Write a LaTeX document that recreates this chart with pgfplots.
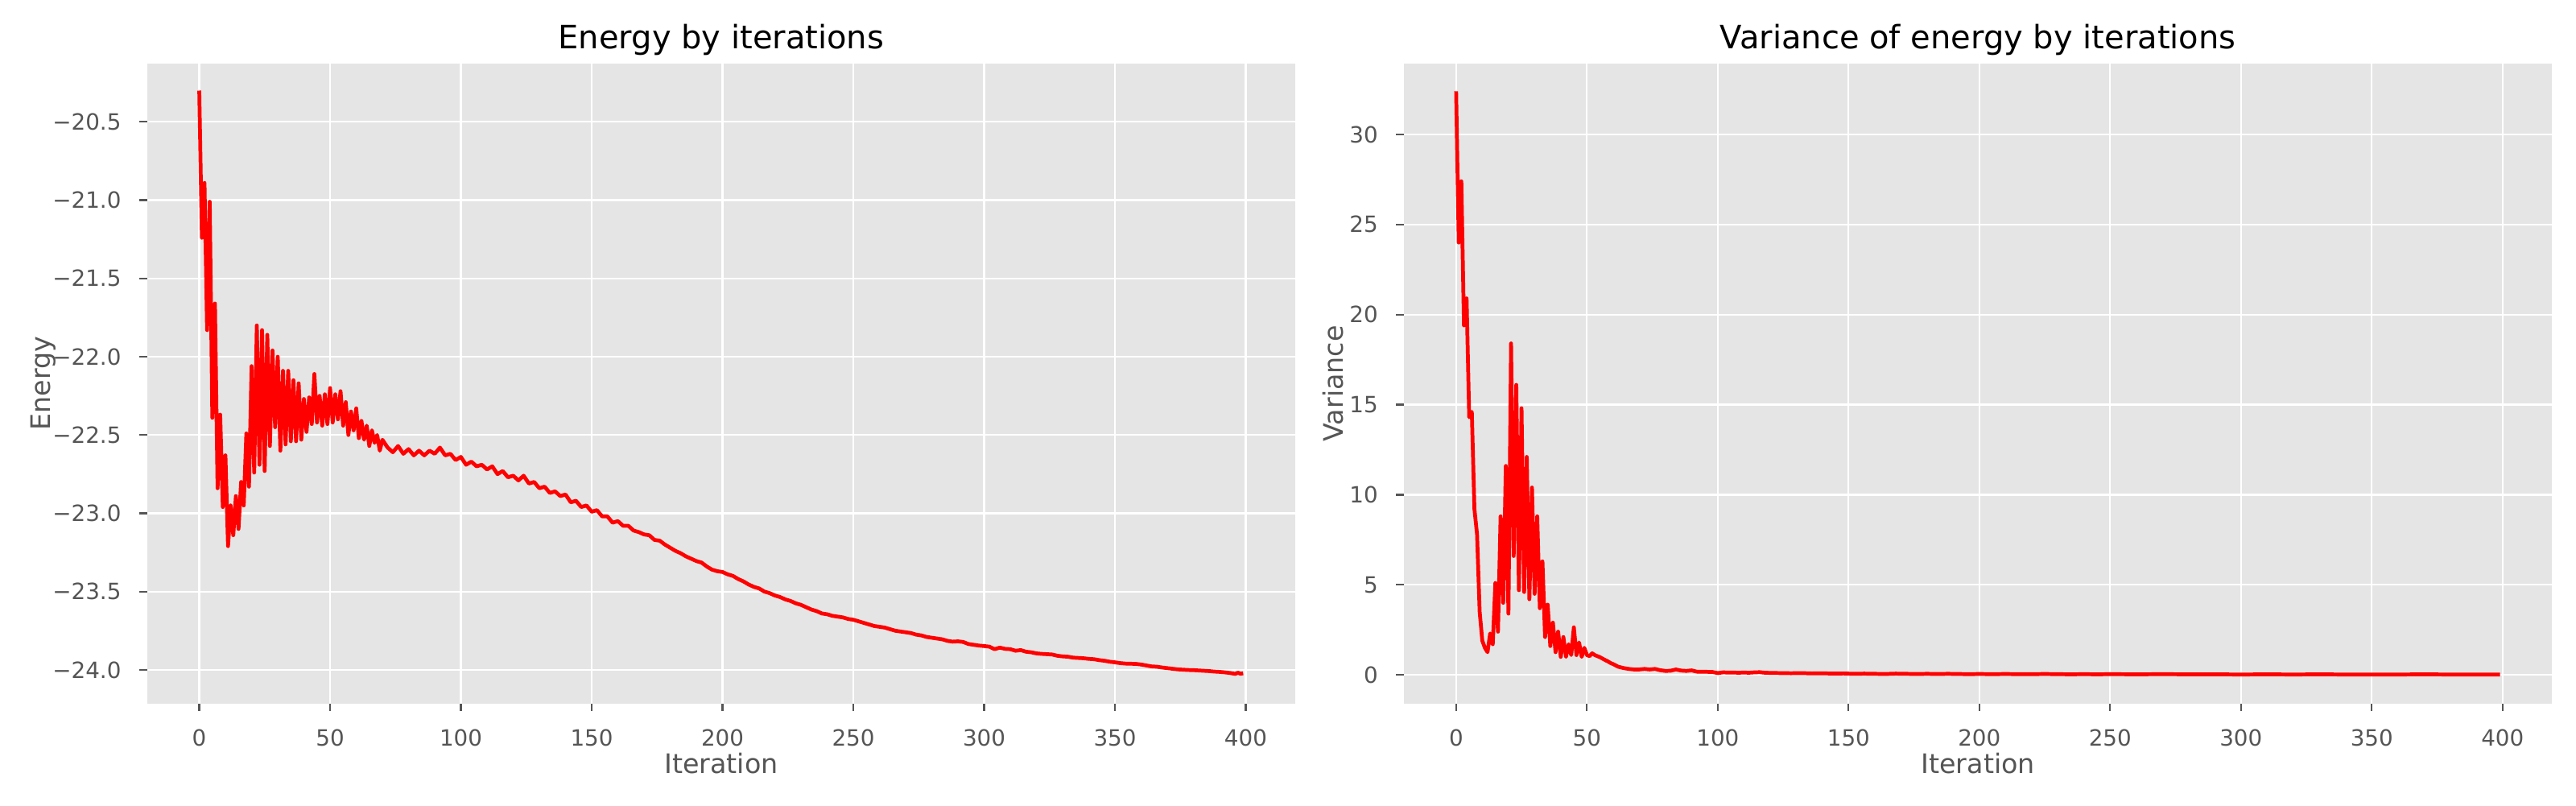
\documentclass[border=0pt]{standalone}
\usepackage{fontspec}
\setmainfont{DejaVu Sans}
\usepackage{pgfplots}
\pgfplotsset{compat=1.18}
\definecolor{bggray}{HTML}{E5E5E5}
\definecolor{txtgray}{HTML}{555555}
\pgfplotsset{
  ggstyle/.style={
    scale only axis,
    width=513.5pt, height=286pt,
    anchor=south west,
    xmin=-19.95, xmax=418.95,
    xtick={0,50,100,150,200,250,300,350,400},
    axis background/.style={fill=bggray},
    axis line style={draw=none},
    grid=major,
    major grid style={white, line width=0.8pt},
    tick align=outside,
    tick pos=left,
    major tick length=3.5pt,
    tick style={txtgray, line width=0.8pt},
    /pgf/number format/assume math mode=true,
    tick label style={font=\fontsize{10}{12}\selectfont, text=txtgray, inner sep=0pt},
    xticklabel style={anchor=base, yshift=-15.66pt},
    yticklabel style={anchor=east, xshift=-7.9pt},
    label style={font=\fontsize{12}{14}\selectfont, text=txtgray},
    xlabel style={at={(axis description cs:0.5,0)}, anchor=base, yshift=-31.14pt, inner sep=0pt},
    title style={at={(axis description cs:0.5,1)}, anchor=base, yshift=0.84pt, font=\fontsize{14.4}{17}\selectfont, text=black, inner sep=0pt},
    clip=true,
  }
}
\begin{document}
\begin{tikzpicture}
\path[use as bounding box] (0,0) rectangle (1152pt,360pt);
\begin{axis}[ggstyle,
  at={(65.77pt,45.54pt)},
  ymin=-24.214, ymax=-20.128,
  ytick={-24,-23.5,-23,-22.5,-22,-21.5,-21,-20.5},
  yticklabels={−24.0,−23.5,−23.0,−22.5,−22.0,−21.5,−21.0,−20.5},
  title={Energy by iterations},
  xlabel={Iteration}, ylabel={Energy},
  ylabel style={at={(axis description cs:-0.0841,0.5)}, anchor=base, inner sep=0pt},
]
\addplot[red, line width=1.7pt, line join=round, mark=none] coordinates {
(0,-20.30) (1,-21.24) (2,-20.89) (3,-21.83) (4,-21.01) (5,-22.39) (6,-21.66) (7,-22.84) (8,-22.37) (9,-22.96)
(10,-22.63) (11,-23.21) (12,-22.95) (13,-23.14) (14,-22.89) (15,-23.10) (16,-22.80) (17,-22.95) (18,-22.49) (19,-22.83)
(20,-22.06) (21,-22.74) (22,-21.80) (23,-22.69) (24,-21.83) (25,-22.73) (26,-21.86) (27,-22.57) (28,-21.96) (29,-22.45)
(30,-22.00) (31,-22.60) (32,-22.09) (33,-22.56) (34,-22.09) (35,-22.54) (36,-22.15) (37,-22.54) (38,-22.17) (39,-22.53)
(40,-22.27) (41,-22.48) (42,-22.26) (43,-22.43) (44,-22.11) (45,-22.42) (46,-22.25) (47,-22.44) (48,-22.24) (49,-22.43)
(50,-22.20) (51,-22.42) (52,-22.24) (53,-22.40) (54,-22.22) (55,-22.44) (56,-22.29) (57,-22.50) (58,-22.35) (59,-22.47)
(60,-22.33) (61,-22.52) (62,-22.41) (63,-22.53) (64,-22.44) (65,-22.57) (66,-22.47) (67,-22.55) (68,-22.50) (69,-22.60)
(70,-22.53) (72,-22.58) (74,-22.61) (76,-22.57) (78,-22.62) (80,-22.59) (82,-22.63) (84,-22.60) (86,-22.63) (88,-22.60)
(90,-22.62) (92,-22.58) (94,-22.63) (96,-22.62) (98,-22.66) (100,-22.64) (102,-22.69) (104,-22.67) (106,-22.70) (108,-22.69)
(110,-22.72) (112,-22.70) (114,-22.75) (116,-22.73) (118,-22.77) (120,-22.76) (122,-22.79) (124,-22.76) (126,-22.81) (128,-22.80)
(130,-22.84) (132,-22.83) (134,-22.87) (136,-22.86) (138,-22.89) (140,-22.88) (142,-22.93) (144,-22.92) (146,-22.96) (148,-22.95)
(150,-22.99) (152,-22.98) (154,-23.02) (156,-23.02) (158,-23.06) (160,-23.05) (162,-23.08) (164,-23.08) (166,-23.11) (168,-23.12)
(170,-23.135) (172,-23.14) (174,-23.17) (176,-23.175) (178,-23.20) (180,-23.22) (182,-23.24) (184,-23.255) (186,-23.275) (188,-23.29)
(190,-23.305) (192,-23.315) (194,-23.34) (196,-23.36) (198,-23.37) (200,-23.375) (202,-23.39) (204,-23.40) (206,-23.42) (208,-23.435)
(210,-23.455) (212,-23.47) (214,-23.48) (216,-23.50) (218,-23.51) (220,-23.525) (222,-23.535) (224,-23.55) (226,-23.56) (228,-23.575)
(230,-23.585) (232,-23.60) (234,-23.615) (236,-23.625) (238,-23.64) (240,-23.645) (242,-23.655) (244,-23.66) (246,-23.665) (248,-23.675)
(250,-23.68) (252,-23.69) (254,-23.70) (256,-23.71) (258,-23.72) (260,-23.725) (262,-23.73) (264,-23.74) (266,-23.75) (268,-23.755)
(270,-23.76) (272,-23.765) (274,-23.775) (276,-23.78) (278,-23.79) (280,-23.795) (282,-23.80) (284,-23.805) (286,-23.815) (288,-23.82)
(290,-23.818) (292,-23.822) (294,-23.835) (296,-23.84) (298,-23.845) (300,-23.848) (302,-23.852) (304,-23.868) (306,-23.858) (308,-23.866)
(310,-23.868) (312,-23.878) (314,-23.874) (316,-23.884) (318,-23.888) (320,-23.895) (322,-23.898) (324,-23.900) (326,-23.902) (328,-23.910)
(330,-23.914) (332,-23.916) (334,-23.922) (336,-23.924) (338,-23.926) (340,-23.930) (342,-23.932) (344,-23.938) (346,-23.942) (348,-23.948)
(350,-23.952) (352,-23.957) (354,-23.960) (356,-23.961) (358,-23.962) (360,-23.966) (362,-23.972) (364,-23.978) (366,-23.980) (368,-23.985)
(370,-23.989) (372,-23.993) (374,-23.997) (376,-23.999) (378,-24.001) (380,-24.002) (382,-24.004) (384,-24.006) (386,-24.008) (388,-24.011)
(390,-24.013) (392,-24.016) (394,-24.020) (396,-24.026) (397,-24.018) (398,-24.025) (399,-24.022)
};
\end{axis}
\begin{axis}[ggstyle,
  at={(627.84pt,45.54pt)},
  ymin=-1.58, ymax=33.93,
  ytick={0,5,10,15,20,25,30},
  title={Variance of energy by iterations},
  xlabel={Iteration}, ylabel={Variance},
  ylabel style={at={(axis description cs:-0.0531,0.5)}, anchor=base, inner sep=0pt},
]
\addplot[red, line width=1.7pt, line join=round, mark=none] coordinates {
(0,32.4) (1,24.0) (2,27.4) (3,19.4) (4,20.9) (5,14.3) (6,14.6) (7,9.2) (8,7.8) (9,3.5)
(10,1.9) (11,1.5) (12,1.26) (13,2.3) (14,1.7) (15,5.1) (16,2.4) (17,8.8) (18,4.0) (19,11.6)
(20,3.4) (21,18.4) (22,6.6) (23,16.1) (24,4.7) (25,14.8) (26,4.6) (27,12.1) (28,4.2) (29,10.4)
(30,4.5) (31,8.8) (32,3.7) (33,6.3) (34,2.1) (35,3.9) (36,1.6) (37,2.9) (38,1.26) (39,2.4)
(40,1.0) (41,2.1) (42,1.0) (43,1.7) (44,1.1) (45,2.64) (46,1.1) (47,1.8) (48,1.0) (49,1.5)
(50,1.1) (51,1.04) (52,1.2) (53,1.1) (54,1.04) (55,0.98) (56,0.9) (57,0.82) (58,0.75) (59,0.66)
(60,0.6) (62,0.45) (64,0.38) (66,0.33) (68,0.30) (70,0.30) (72,0.33) (74,0.30) (76,0.33) (78,0.26)
(80,0.22) (82,0.23) (84,0.30) (86,0.24) (88,0.22) (90,0.25) (92,0.18) (94,0.17) (96,0.17) (98,0.16)
(100,0.10) (102,0.14) (104,0.13) (106,0.13) (108,0.12) (110,0.13) (112,0.12) (114,0.14) (116,0.15) (118,0.12)
(120,0.11) (124,0.10) (128,0.09) (132,0.10) (136,0.08) (140,0.09) (144,0.07) (148,0.08) (152,0.06) (156,0.07)
(160,0.06) (164,0.05) (168,0.07) (172,0.06) (176,0.05) (180,0.06) (184,0.05) (188,0.06) (192,0.05) (196,0.04)
(200,0.05) (205,0.04) (210,0.05) (215,0.04) (220,0.04) (225,0.05) (230,0.04) (235,0.03) (240,0.04) (245,0.03)
(250,0.04) (260,0.03) (270,0.04) (280,0.03) (290,0.03) (300,0.02) (310,0.03) (320,0.02) (330,0.03) (340,0.02)
(350,0.02) (360,0.02) (370,0.03) (380,0.02) (390,0.02) (399,0.02)
};
\end{axis}
\end{tikzpicture}
\end{document}
